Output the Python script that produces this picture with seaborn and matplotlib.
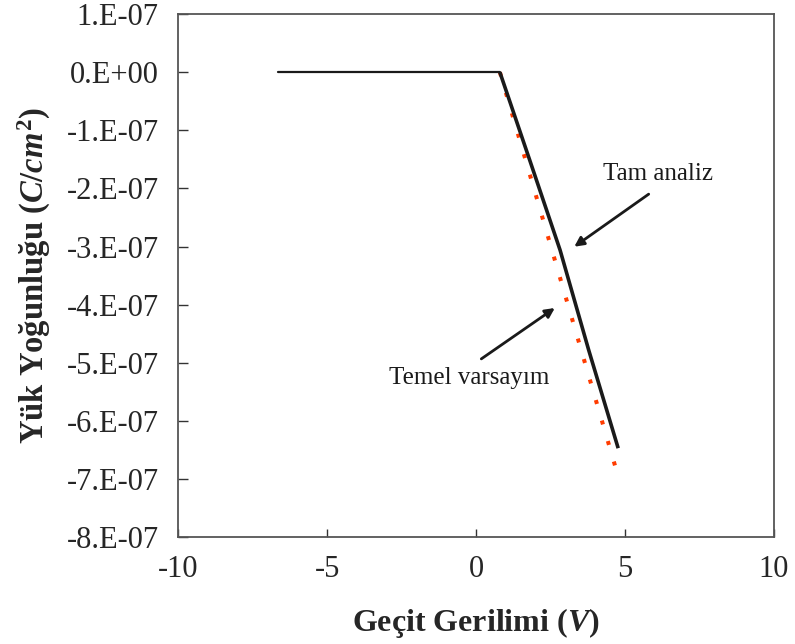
import matplotlib
matplotlib.use("Agg")
import matplotlib.pyplot as plt
import seaborn as sns
import pandas as pd
import numpy as np

# ---- data ----
tam_x = [-6.65, 0.80, 1.80, 2.82, 3.78, 4.77]
tam_y = [0.0, 0.0, -1.51e-7, -3.06e-7, -4.78e-7, -6.47e-7]
temel_x = [0.80, 4.75]
temel_y = [0.0, -6.92e-7]
x_ticks = [-10, -5, 0, 5, 10]
y_ticks = [1e-7, 0.0, -1e-7, -2e-7, -3e-7, -4e-7, -5e-7, -6e-7, -7e-7, -8e-7]
y_ticklabels = ["1.E-07", "0.E+00", "-1.E-07", "-2.E-07", "-3.E-07",
                "-4.E-07", "-5.E-07", "-6.E-07", "-7.E-07", "-8.E-07"]

sns.set_style("ticks")
plt.rcParams['font.family'] = ['Liberation Serif', 'DejaVu Serif']
plt.rcParams['mathtext.fontset'] = 'custom'
plt.rcParams['mathtext.rm'] = 'Liberation Serif:bold'
plt.rcParams['mathtext.it'] = 'Liberation Serif:italic:bold'
plt.rcParams['mathtext.bf'] = 'Liberation Serif:bold'

fig = plt.figure(figsize=(7.95, 6.44), dpi=100)
ax = fig.add_axes([0.224, 0.166, 0.7496, 0.812])

df_tam = pd.DataFrame({"x": tam_x, "y": tam_y})
df_temel = pd.DataFrame({"x": temel_x, "y": temel_y})

red = "#FF3C00"
sns.lineplot(data=df_temel, x="x", y="y", sort=False, ax=ax, color=red,
             linewidth=2.9, linestyle=(0, (1, 4.3)), dash_capstyle='butt')
sns.lineplot(data=df_tam.iloc[:2], x="x", y="y", sort=False, ax=ax,
             color="#1a1a1a", linewidth=1.6)
sns.lineplot(data=df_tam.iloc[1:], x="x", y="y", sort=False, ax=ax,
             color="#1a1a1a", linewidth=2.6, solid_capstyle='butt')

ax.set_xlim(-10, 10)
ax.set_ylim(-8e-7, 1e-7)
ax.set_xticks(x_ticks)
ax.set_xticklabels([str(t) for t in x_ticks], fontsize=22)
ax.set_yticks(y_ticks)
ax.set_yticklabels(y_ticklabels, fontsize=22)
ax.tick_params(axis='x', direction='in', length=6, width=1.0, color='#333333', pad=13)
ax.tick_params(axis='y', direction='in', length=7, width=1.0, color='#333333', pad=14)
for s in ax.spines.values():
    s.set_color('#555555')
    s.set_linewidth(1.3)

ax.set_xlabel("Geçit Gerilimi ($V$)", fontsize=23, fontweight='bold', labelpad=16)
ax.set_ylabel("Yük Yoğunluğu ($C/cm^2$)", fontsize=23.5, fontweight='bold', labelpad=10)

arrow = dict(arrowstyle='-|>', color='#1a1a1a', lw=2.0, mutation_scale=14)
ax.annotate("", xy=(3.22, -3.03e-7), xytext=(5.87, -2.07e-7), arrowprops=arrow)
ax.text(6.1, -1.75e-7, "Tam analiz", fontsize=18, ha='center', va='center', color='#1a1a1a')
ax.annotate("", xy=(2.72, -4.03e-7), xytext=(0.10, -4.96e-7), arrowprops=arrow)
ax.text(-0.23, -5.27e-7, "Temel varsayım", fontsize=18, ha='center', va='center', color='#1a1a1a')

fig.savefig("out.png", dpi=100)
